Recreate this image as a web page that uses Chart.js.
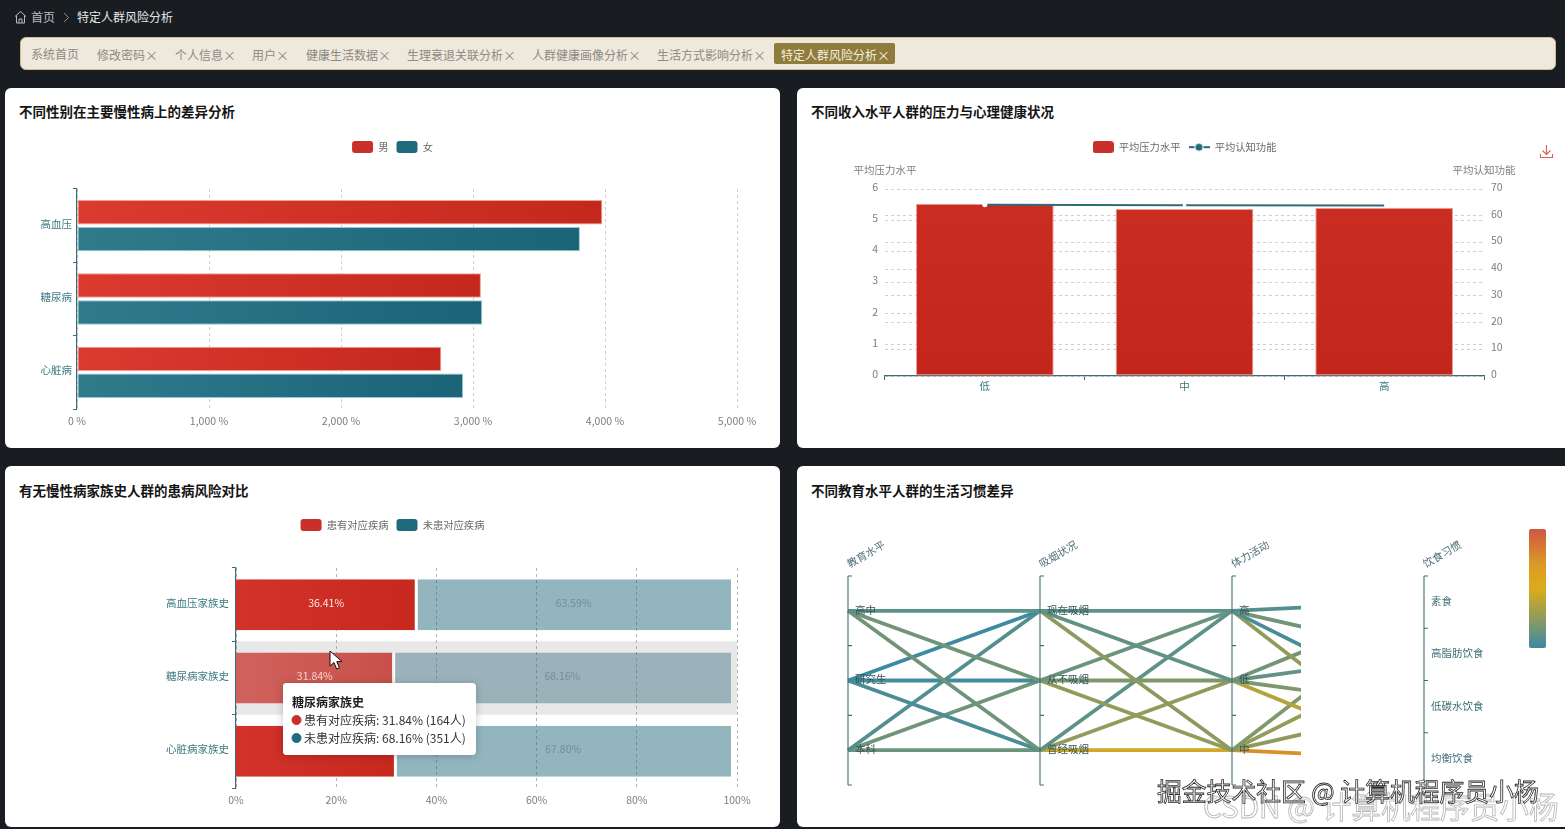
<!DOCTYPE html>
<html lang="zh-CN">
<head>
<meta charset="utf-8">
<title>特定人群风险分析</title>
<script src="https://cdn.jsdelivr.net/npm/chart.js@4/dist/chart.umd.js"></script>
<style>
  html, body { margin: 0; width: 1565px; height: 829px; overflow: hidden; background: #191d21; }
  body { position: relative; font-family: "Noto Sans CJK SC", "Noto Sans", sans-serif; }
  .abs { position: absolute; white-space: nowrap; line-height: 1; }
  .crumb { font-size: 12px; top: 11px; color: #b9bcbf; }
  .tagbar { position: absolute; left: 20px; top: 37px; width: 1534px; height: 31px; background: #efe8dc;
            border: 1px solid #cdbd92; border-radius: 6px; }
  .tag { font-size: 12px; top: 48px; color: #8b8b83; }
  .tag i { font-style: normal; font-size: 13px; margin-left: 0; }
  .tag.active { left: 774px; top: 43px; width: 121px; height: 21px; line-height: 23px; background: #8f7c3c;
                color: #f4efdf; border-radius: 2px; box-sizing: border-box; padding-left: 7px; }
  .card { position: absolute; background: #fff; border-radius: 6px; overflow: hidden; width: 775px; }
  .card h3 { position: absolute; left: 14px; margin: 0; font-size: 13.5px; line-height: 1; font-weight: 700; color: #141414; white-space: nowrap; }
  .card canvas { position: absolute; left: 0; top: 0; }
  .scale-bar { position: absolute; left: 1529px; top: 529px; width: 17px; height: 119px; border-radius: 2px;
               background: linear-gradient(to bottom, #cf5644 0%, #dc9a26 30%, #dcab1b 50%, #8c9a5f 76%, #3a8aa5 100%); }
  .mark-a { font-size: 24.8px; top: 778px; left: 1157px; color: #fff; -webkit-text-stroke: 0.8px #2a2a2a; }
  .mark-b { font-size: 29.6px; top: 791px; left: 1203px; color: rgba(255,255,255,.55); -webkit-text-stroke: 0.8px #b5b5b5; }
</style>
</head>
<body>
  <svg class="abs" style="left:14px;top:10px" width="13" height="14" viewBox="0 0 13 14" fill="none" stroke="#b9bcbf" stroke-width="1">
    <path d="M1 6.5 6.5 1.5 12 6.5M2.5 5.5V13h8V5.5M5 13V9h3v4"/>
  </svg>
  <span class="abs crumb" style="left:31px">首页</span>
  <svg class="abs" style="left:63px;top:12px" width="7" height="11" viewBox="0 0 7 11" fill="none" stroke="#8a8d90"><path d="M1 1l4.5 4.5L1 10"/></svg>
  <span class="abs crumb" style="left:77px;color:#e6e7e8">特定人群风险分析</span>

  <div class="tagbar"></div>
  <span class="abs tag" style="left:31px">系统首页</span>
  <span class="abs tag" style="left:97px">修改密码<i>×</i></span>
  <span class="abs tag" style="left:175px">个人信息<i>×</i></span>
  <span class="abs tag" style="left:252px">用户<i>×</i></span>
  <span class="abs tag" style="left:306px">健康生活数据<i>×</i></span>
  <span class="abs tag" style="left:407px">生理衰退关联分析<i>×</i></span>
  <span class="abs tag" style="left:532px">人群健康画像分析<i>×</i></span>
  <span class="abs tag" style="left:657px">生活方式影响分析<i>×</i></span>
  <span class="abs tag active">特定人群风险分析<i>×</i></span>

  <div class="card" style="left:5px;top:88px;height:360px"><h3 style="top:17px">不同性别在主要慢性病上的差异分析</h3><canvas id="genderChart" width="775" height="360"></canvas></div>
  <div class="card" style="left:797px;top:88px;height:360px"><h3 style="top:17px">不同收入水平人群的压力与心理健康状况</h3><canvas id="incomeChart" width="775" height="360"></canvas></div>
  <div class="card" style="left:5px;top:466px;height:361px"><h3 style="top:18px">有无慢性病家族史人群的患病风险对比</h3><canvas id="familyChart" width="775" height="361"></canvas></div>
  <div class="card" style="left:797px;top:466px;height:361px"><h3 style="top:18px">不同教育水平人群的生活习惯差异</h3><canvas id="habitChart" width="775" height="361"></canvas></div>

  <svg class="abs" style="left:1539px;top:144px" width="15" height="15" viewBox="0 0 15 15" fill="none" stroke="#d9605a" stroke-width="1.1">
    <path d="M7.5 1v9M3.5 6.5l4 4 4-4M1.5 10v3.5h12V10"/>
  </svg>
  <div class="scale-bar"></div>
  <svg class="abs" style="left:329px;top:650px" width="14" height="21" viewBox="0 0 14 21">
    <path d="M1 1v15l4-3.5 2.6 6.5 2.8-1.2-2.6-6.2h5.2z" fill="#fff" stroke="#111" stroke-width="1"/>
  </svg>
  <span class="abs mark-b">CSDN @ 计算机程序员小杨</span>
  <span class="abs mark-a">掘金技术社区 @ 计算机程序员小杨</span>

<script>
// ---- chronic disease rate by gender ----
const diseaseNames = ['高血压', '糖尿病', '心脏病'];
const maleRates = [3980, 3060, 2760];
const femaleRates = [3810, 3070, 2925];
const rateTicks = [0, 1000, 2000, 3000, 4000, 5000];

// ---- stress and cognition by income ----
const incomeLevels = ['低', '中', '高'];
const avgStress = [5.53, 5.36, 5.40];
const avgCognition = [64.1, 63.9, 63.8];

// ---- family history ----
const historyGroups = ['高血压家族史', '糖尿病家族史', '心脏病家族史'];
const withDisease = [36.41, 31.84, 32.20];
const withoutDisease = [63.59, 68.16, 67.80];
const hoveredRow = 1;
const hoveredPeople = [164, 351];

// ---- lifestyle by education (parallel axes) ----
const educationLevels = ['高中', '研究生', '本科'];
const smokingStates = ['现在吸烟', '从不吸烟', '曾经吸烟'];
const activityLevels = ['高', '低', '中'];
const dietHabits = ['素食', '高脂肪饮食', '低碳水饮食', '均衡饮食'];
const axisNames = ['教育水平', '吸烟状况', '体力活动', '饮食习惯'];
// colour-scale value of each link, rows = left axis, columns = right axis
const educationToSmoking = [[10, 17, 16], [1, 3, 5], [8, 16, 15]];
const smokingToActivity = [[11, 12, 25], [15, 21, 27], [11, 27, 46]];
const activityToDiet = [[8, 17, 4, 27], [17, 12, 21, 38], [22, 28, 26, 65]];

const TEAL_AXIS = '#3f6d74';
const LABEL_TEAL = '#3d7a82';
const GREY = '#7d7d7d';
const DASH_GRID = '#cfcfcf';
const DASH = [3, 3];
const FONT = '"Noto Sans CJK SC", "Noto Sans", sans-serif';

Chart.defaults.font.family = FONT;
Chart.defaults.font.size = 10.5;
Chart.defaults.animation = false;

// Reserves a fixed height for the legend so the plot area starts where it should.
function legendBand(areaTop, padTop) {
  return {
    id: 'legendBand',
    beforeInit(chart) {
      const fit = chart.legend.fit;
      chart.legend.fit = function () {
        fit.call(this);
        this.height = areaTop - padTop;
      };
    }
  };
}

function legendOptions(colors) {
  return {
    display: true,
    position: 'top',
    labels: {
      boxWidth: 21, boxHeight: 12, useBorderRadius: true, padding: 8,
      color: '#6a6a6a', font: { size: 10.3 },
      generateLabels: chart => chart.data.datasets.map((d, i) => ({
        text: d.label, fillStyle: colors[i], strokeStyle: colors[i], lineWidth: 0,
        borderRadius: 3, fontColor: '#6a6a6a', datasetIndex: i
      }))
    }
  };
}

// Horizontal gradient spanning a single bar.
function barGradient(from, to, scaleId) {
  return ctx => {
    const chart = ctx.chart, scale = chart.scales[scaleId];
    if (!chart.chartArea || !scale || ctx.raw == null) return to;
    const x0 = scale.getPixelForValue(0), x1 = scale.getPixelForValue(ctx.raw);
    const g = chart.ctx.createLinearGradient(x0, 0, Math.max(x1, x0 + 1), 0);
    g.addColorStop(0, from);
    g.addColorStop(1, to);
    return g;
  };
}

// ---- chart 1 ----
new Chart(document.getElementById('genderChart'), {
  type: 'bar',
  data: {
    labels: diseaseNames,
    datasets: [
      { label: '男', data: maleRates, backgroundColor: barGradient('#db3a2f', '#c4281c', 'x'),
        borderColor: 'rgba(240,150,140,.9)', borderWidth: 1, borderSkipped: false,
        categoryPercentage: 0.734, barPercentage: 0.91 },
      { label: '女', data: femaleRates, backgroundColor: barGradient('#2f7b8c', '#1b6377', 'x'),
        borderColor: 'rgba(140,195,205,.9)', borderWidth: 1, borderSkipped: false,
        categoryPercentage: 0.734, barPercentage: 0.91 }
    ]
  },
  options: {
    responsive: false, indexAxis: 'y', events: [],
    layout: { padding: { top: 45, left: 0, right: 0, bottom: 0 } },
    plugins: { legend: legendOptions(['#c9302a', '#1f6a7c']), tooltip: { enabled: false } },
    scales: {
      x: {
        min: 0, max: 5000, afterBuildTicks: s => { s.ticks = rateTicks.map(value => ({ value })); },
        border: { display: false, dash: DASH },
        grid: { color: DASH_GRID, drawTicks: false },
        ticks: { color: GREY, padding: 6, maxRotation: 0, callback: v => v.toLocaleString('en-US') + ' %' },
        afterFit: s => { s.height = 39; }
      },
      y: {
        border: { display: true, color: TEAL_AXIS, width: 1.2 },
        grid: { offset: true, drawOnChartArea: false, tickLength: 4, tickColor: TEAL_AXIS },
        ticks: { color: LABEL_TEAL, padding: 1, labelOffset: -2 },
        afterFit: s => { s.width = 72; }
      },
      // empty strip on the right, so the legend stays centred on the whole card
      rightMargin: {
        type: 'linear', position: 'right', min: 0, max: 1,
        border: { display: false }, grid: { display: false }, ticks: { display: false },
        afterFit: s => { s.width = 43; }
      }
    }
  },
  plugins: [legendBand(101, 45)]
});

// ---- chart 2 ----
function legendSwatch(draw) {
  const c = document.createElement('canvas');
  c.width = 21; c.height = 12;
  draw(c.getContext('2d'));
  return c;
}
const stressSwatch = legendSwatch(g => {
  g.fillStyle = '#c9302a';
  g.beginPath(); g.roundRect(0, 0, 21, 12, 3); g.fill();
});
const cognitionSwatch = legendSwatch(g => {
  g.fillStyle = '#1f6a7c';
  g.fillRect(0, 5, 6, 2); g.fillRect(15, 5, 6, 2);
  g.beginPath(); g.arc(10.5, 6, 3.5, 0, Math.PI * 2); g.fill();
});

const axisCaptions = {
  id: 'axisCaptions',
  afterDraw(chart) {
    const { ctx, chartArea: a } = chart;
    ctx.save();
    ctx.font = '10.5px ' + FONT;
    ctx.fillStyle = GREY;
    ctx.textAlign = 'center';
    ctx.textBaseline = 'middle';
    ctx.fillText('平均压力水平', a.left, a.top - 19);
    ctx.fillText('平均认知功能', a.right, a.top - 19);
    ctx.restore();
  }
};

new Chart(document.getElementById('incomeChart'), {
  type: 'bar',
  data: {
    labels: incomeLevels,
    datasets: [
      { label: '平均压力水平', data: avgStress, yAxisID: 'y', order: 1,
        backgroundColor: ctx => {
          const { chart } = ctx;
          if (!chart.chartArea) return '#c6281d';
          const g = chart.ctx.createLinearGradient(0, chart.chartArea.top, 0, chart.chartArea.bottom);
          g.addColorStop(0, '#ca2d22');
          g.addColorStop(1, '#c3271c');
          return g;
        },
        borderColor: 'rgba(240,150,140,.9)', borderWidth: 1, borderSkipped: false,
        categoryPercentage: 1, barPercentage: 0.69 },
      { type: 'line', label: '平均认知功能', data: avgCognition, yAxisID: 'yRight', order: 0,
        borderColor: '#2f6c79', borderWidth: 2, tension: 0,
        pointRadius: [2.5, 1.8, 0], pointBackgroundColor: '#fff', pointBorderWidth: 0 }
    ]
  },
  options: {
    responsive: false, events: [],
    layout: { padding: { top: 46, left: 40, right: 40, bottom: 0 } },
    plugins: {
      tooltip: { enabled: false },
      legend: {
        position: 'top',
        labels: {
          usePointStyle: true, pointStyleWidth: 21, boxHeight: 12, padding: 8, color: '#6a6a6a',
          font: { size: 10.3 },
          generateLabels: chart => chart.data.datasets.map((d, i) => ({
            text: d.label, pointStyle: i === 0 ? stressSwatch : cognitionSwatch,
            fontColor: '#6a6a6a', lineWidth: 0, datasetIndex: i
          }))
        }
      }
    },
    scales: {
      x: {
        border: { display: true, color: TEAL_AXIS, width: 1.2 },
        grid: { offset: true, drawOnChartArea: false, tickLength: 4, tickColor: TEAL_AXIS },
        ticks: { color: LABEL_TEAL, padding: 0 },
        afterFit: s => { s.height = 72; }
      },
      y: {
        position: 'left', min: 0, max: 6, ticks: { stepSize: 1, color: GREY, padding: 7, labelOffset: -2 },
        border: { display: false, dash: DASH },
        grid: { color: DASH_GRID, drawTicks: false },
        afterFit: s => { s.width = 48; }
      },
      yRight: {
        position: 'right', min: 0, max: 70, ticks: { stepSize: 10, color: GREY, padding: 7, labelOffset: -2 },
        border: { display: false, dash: DASH },
        grid: { color: DASH_GRID, drawTicks: false },
        afterFit: s => { s.width = 48; }
      }
    }
  },
  plugins: [legendBand(101, 46), axisCaptions]
});

// ---- chart 3 ----
Chart.Tooltip.positioners.pinned = function () { return { x: 282, y: 217 }; };

const hoverBand = {
  id: 'hoverBand',
  beforeDatasetsDraw(chart) {
    const { ctx, chartArea: a, scales: { y } } = chart;
    const half = (a.bottom - a.top) / historyGroups.length / 2;
    const cy = y.getPixelForValue(hoveredRow);
    ctx.save();
    ctx.fillStyle = 'rgba(150,150,150,.22)';
    ctx.fillRect(a.left, cy - half, a.right - a.left, half * 2);
    ctx.restore();
  }
};

const segmentLabels = {
  id: 'segmentLabels',
  afterDatasetsDraw(chart) {
    const { ctx } = chart;
    ctx.save();
    ctx.font = '10.5px ' + FONT;
    ctx.textAlign = 'center';
    ctx.textBaseline = 'middle';
    chart.getDatasetMeta(0).data.forEach((bar, i) => {
      ctx.fillStyle = i === hoveredRow ? 'rgba(255,235,230,.85)' : '#fbe9e4';
      ctx.fillText(withDisease[i].toFixed(2) + '%', (bar.base + bar.x) / 2, bar.y - 2);
    });
    chart.getDatasetMeta(1).data.forEach((bar, i) => {
      ctx.fillStyle = 'rgba(60,100,110,.45)';
      ctx.fillText(withoutDisease[i].toFixed(2) + '%', (bar.base + bar.x) / 2, bar.y - 2);
    });
    ctx.restore();
  }
};

const tooltipShadow = {
  id: 'tooltipShadow',
  beforeTooltipDraw(chart, args) {
    const { ctx } = chart, t = args.tooltip;
    ctx.save();
    ctx.shadowColor = 'rgba(0,0,0,.22)';
    ctx.shadowBlur = 9;
    ctx.shadowOffsetY = 1;
    ctx.fillStyle = '#fff';
    ctx.beginPath();
    ctx.roundRect(t.x, t.y, t.width, t.height, 4);
    ctx.fill();
    ctx.restore();
  }
};

const familyChart = new Chart(document.getElementById('familyChart'), {
  type: 'bar',
  data: {
    labels: historyGroups,
    datasets: [
      { label: '患有对应疾病', data: withDisease, xAxisID: 'xBars', stack: 's',
        backgroundColor: ctx => ctx.dataIndex === hoveredRow
          ? barGradient('#d0625d', '#c9504a', 'xBars')(ctx)
          : barGradient('#d1322a', '#c8291e', 'xBars')(ctx),
        borderColor: '#fff', borderWidth: { right: 1.5 }, borderSkipped: false,
        categoryPercentage: 1, barPercentage: 0.695 },
      { label: '未患对应疾病', data: withoutDisease, xAxisID: 'xBars', stack: 's',
        backgroundColor: ctx => ctx.dataIndex === hoveredRow ? 'rgba(30,90,110,.38)' : 'rgba(28,100,120,.48)',
        borderColor: '#fff', borderWidth: { left: 1.5 }, borderSkipped: false,
        categoryPercentage: 1, barPercentage: 0.695 }
    ]
  },
  options: {
    responsive: false, indexAxis: 'y', events: [],
    layout: { padding: { top: 45, left: 43, right: 43, bottom: 0 } },
    plugins: {
      legend: legendOptions(['#c9302a', '#1f6a7c']),
      tooltip: {
        enabled: true, position: 'pinned', animation: false, displayColors: true,
        xAlign: 'left', yAlign: 'top', caretSize: 0, caretPadding: 0, cornerRadius: 4,
        backgroundColor: '#fff', titleColor: '#1c1c1c', bodyColor: '#333',
        titleFont: { size: 12, weight: '700', lineHeight: 1.5 }, bodyFont: { size: 12, lineHeight: 1.5 },
        titleMarginBottom: 0, titleSpacing: 0, bodySpacing: 0,
        padding: { top: 10, bottom: 8, left: 9, right: 10 },
        usePointStyle: true, boxWidth: 9, boxHeight: 9, boxPadding: 1,
        callbacks: {
          title: () => historyGroups[hoveredRow],
          label: item => {
            const share = item.datasetIndex === 0 ? withDisease[hoveredRow] : withoutDisease[hoveredRow];
            return `${item.dataset.label}: ${share.toFixed(2)}% (${hoveredPeople[item.datasetIndex]}人)`;
          },
          labelPointStyle: () => ({ pointStyle: 'circle', rotation: 0 }),
          labelColor: item => {
            const c = item.datasetIndex === 0 ? '#c9302a' : '#1f6a7c';
            return { backgroundColor: c, borderColor: c, borderWidth: 0 };
          }
        }
      }
    },
    scales: {
      x: {
        min: 0, max: 100, position: 'bottom',
        border: { display: false, dash: DASH },
        grid: { color: '#b4b4b4', drawTicks: false },
        ticks: { stepSize: 20, color: GREY, padding: 6, callback: v => v + '%' },
        afterFit: s => { s.height = 39; }
      },
      xBars: { display: false, min: 0, max: 101.2, stacked: true },
      y: {
        stacked: true,
        border: { display: true, color: TEAL_AXIS, width: 1.2 },
        grid: { offset: true, drawOnChartArea: false, tickLength: 4, tickColor: TEAL_AXIS },
        ticks: { color: LABEL_TEAL, padding: 3, labelOffset: -2 },
        afterFit: s => { s.width = 188; }
      }
    }
  },
  plugins: [legendBand(102, 45), hoverBand, segmentLabels, tooltipShadow]
});
familyChart.tooltip.setActiveElements(
  [{ datasetIndex: 0, index: hoveredRow }, { datasetIndex: 1, index: hoveredRow }],
  { x: 325, y: 185 }
);
familyChart.render();

// ---- chart 4 ----
const TEAL_STOP = [58, 138, 165], GOLD_STOP = [220, 171, 27], RED_STOP = [208, 80, 70];
function scaleColor(v) {
  const [a, b, t] = v <= 50 ? [TEAL_STOP, GOLD_STOP, v / 50] : [GOLD_STOP, RED_STOP, (v - 50) / 50];
  return `rgb(${a.map((c, i) => Math.round(c + (b[i] - c) * t)).join(',')})`;
}

// The axis range is divided so both 3-step and 4-step category axes land on whole slots.
const AXIS_SPAN = 12;
const slotY = (count, i) => AXIS_SPAN - (i + 0.5) * AXIS_SPAN / count;
const axisCategories = [educationLevels, smokingStates, activityLevels, dietHabits];

function linkDatasets(matrix, fromAxis) {
  const out = [];
  matrix.forEach((row, a) => row.forEach((value, b) => {
    out.push({
      data: [
        { x: fromAxis, y: slotY(matrix.length, a) },
        { x: fromAxis + 1, y: slotY(row.length, b) }
      ],
      borderColor: scaleColor(value), borderWidth: 3.8, pointRadius: 0, tension: 0,
      clip: { left: 2, top: 2, bottom: 2, right: -123 }
    });
  }));
  return out;
}

const parallelAxes = {
  id: 'parallelAxes',
  afterDatasetsDraw(chart) {
    const { ctx, scales: { x, y } } = chart;
    ctx.save();
    ctx.font = '10.5px ' + FONT;
    ctx.lineWidth = 1.1;
    axisCategories.forEach((cats, k) => {
      const px = x.getPixelForValue(k);
      ctx.strokeStyle = TEAL_AXIS;
      ctx.beginPath();
      ctx.moveTo(px, y.getPixelForValue(0));
      ctx.lineTo(px, y.getPixelForValue(AXIS_SPAN));
      for (let i = 0; i <= cats.length; i++) {
        const py = y.getPixelForValue(i * AXIS_SPAN / cats.length);
        ctx.moveTo(px, py);
        ctx.lineTo(px + 4, py);
      }
      ctx.stroke();
      ctx.fillStyle = k === 3 ? '#3d6f78' : '#37565c';
      ctx.textAlign = 'left';
      ctx.textBaseline = 'middle';
      cats.forEach((name, i) => ctx.fillText(name, px + 7, y.getPixelForValue(slotY(cats.length, i)) - 1));
      ctx.save();
      ctx.translate(px + 18, y.getPixelForValue(AXIS_SPAN) - 22);
      ctx.rotate(-Math.PI / 6);
      ctx.textAlign = 'center';
      ctx.fillStyle = '#4d6f78';
      ctx.fillText(axisNames[k], 0, 0);
      ctx.restore();
    });
    ctx.restore();
  }
};

new Chart(document.getElementById('habitChart'), {
  type: 'line',
  data: {
    datasets: [
      ...linkDatasets(activityToDiet, 2),
      ...linkDatasets(smokingToActivity, 1),
      ...linkDatasets(educationToSmoking, 0)
    ]
  },
  options: {
    responsive: false, events: [],
    layout: { padding: { left: 51, right: 148, top: 110, bottom: 42 } },
    plugins: { legend: { display: false }, tooltip: { enabled: false } },
    scales: {
      x: { type: 'linear', display: false, min: 0, max: 3 },
      y: { type: 'linear', display: false, min: 0, max: AXIS_SPAN }
    }
  },
  plugins: [parallelAxes]
});
</script>
</body>
</html>
